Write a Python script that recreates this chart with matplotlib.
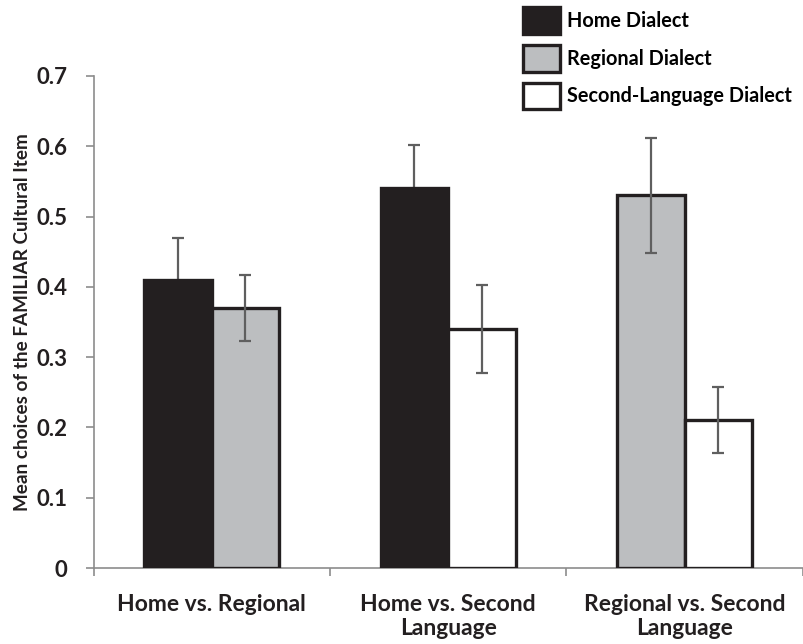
import numpy as np
import matplotlib
matplotlib.use('Agg')
import matplotlib.pyplot as plt
from matplotlib.patches import Patch

plt.rcParams['font.family'] = ['Lato', 'DejaVu Sans']
plt.rcParams['font.weight'] = 'bold'

groups = ['Home vs. Regional', 'Home vs. Second\nLanguage', 'Regional vs. Second\nLanguage']
dialects = ['Home Dialect', 'Regional Dialect', 'Second-Language Dialect']
colors = {'Home Dialect': '#231f20', 'Regional Dialect': '#bcbec0', 'Second-Language Dialect': '#ffffff'}

# each comparison shows two dialects: left bar and right bar
left_dialect = ['Home Dialect', 'Home Dialect', 'Regional Dialect']
left_mean = [0.41, 0.54, 0.53]
left_err = [0.06, 0.062, 0.082]

right_dialect = ['Regional Dialect', 'Second-Language Dialect', 'Second-Language Dialect']
right_mean = [0.37, 0.34, 0.21]
right_err = [0.047, 0.062, 0.047]

ink = '#231f20'
axis_gray = '#8c8c8c'
err_gray = '#5f5f5f'

fig = plt.figure(figsize=(8.04, 6.44), dpi=100)
ax = fig.add_axes([0.1164, 0.118, 0.882, 0.764])

x = np.arange(len(groups))
w = 0.285

def draw_bars(xpos, means, errs, names):
    for xi, m, e, name in zip(xpos, means, errs, names):
        ax.bar(xi, m, w, color=colors[name], edgecolor=ink, linewidth=2.4, zorder=3)
        # error line sits behind the black bars
        z = 2 if name == 'Home Dialect' else 4
        ax.errorbar(xi, m, yerr=e, fmt='none', ecolor=err_gray, elinewidth=1.6,
                    capsize=4, capthick=1.6, zorder=z)

draw_bars(x - w / 2, left_mean, left_err, left_dialect)
draw_bars(x + w / 2, right_mean, right_err, right_dialect)

ax.set_xlim(-0.5, len(groups) - 0.5)
ax.set_ylim(0, 0.7)
ax.set_yticks(np.arange(0, 0.71, 0.1))
ax.set_yticklabels(['0', '0.1', '0.2', '0.3', '0.4', '0.5', '0.6', '0.7'])
ax.set_xticks(x)
ax.set_xticklabels(groups, linespacing=1.15)
ax.set_xticks(np.arange(-0.5, len(groups), 1.0), minor=True)

for s in ['top', 'right']:
    ax.spines[s].set_visible(False)
for s in ['left', 'bottom']:
    ax.spines[s].set_color(axis_gray)
    ax.spines[s].set_linewidth(1.2)

ax.tick_params(axis='x', which='major', length=0, pad=19, labelsize=16.5, labelcolor=ink)
ax.tick_params(axis='x', which='minor', length=6, width=1.2, color=axis_gray, direction='out')
ax.tick_params(axis='y', length=6, width=1.2, color=axis_gray, direction='out',
               pad=13, labelsize=16, labelcolor=ink)
for lab in ax.get_yticklabels() + ax.get_xticklabels():
    lab.set_fontweight('bold')

ax.set_ylabel('Mean choices of the FAMILIAR Cultural Item', fontsize=13.6,
              fontweight='bold', color=ink, labelpad=4)

handles = [Patch(facecolor=colors[d], edgecolor=ink, linewidth=2.4) for d in dialects]
fig.legend(handles, dialects, loc='upper left', bbox_to_anchor=(0.6505, 0.989),
           frameon=False, prop={'weight': 'bold', 'size': 14.3},
           handlelength=1.86, handleheight=1.7, handletextpad=0.35,
           labelspacing=0.55, borderpad=0, borderaxespad=0)

fig.savefig('out.png', dpi=100)
